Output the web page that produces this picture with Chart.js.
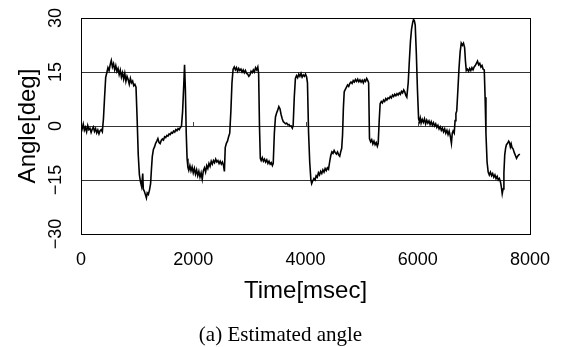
<!DOCTYPE html>
<html>
<head>
<meta charset="utf-8">
<script src="https://cdn.jsdelivr.net/npm/chart.js@4.4.1/dist/chart.umd.min.js"></script>
<style>
  html, body { margin: 0; padding: 0; background: #fff; }
  #wrap { width: 561px; height: 347px; position: relative; }
  #caption {
    position: absolute; left: 0; top: 322px; width: 561px;
    text-align: center; line-height: 25px; font-size: 21px;
    font-family: "Liberation Serif", "Times New Roman", serif; color: #000;
  }
</style>
</head>
<body>
<div id="wrap">
  <canvas id="angleChart"></canvas>
  <div id="caption">(a) Estimated angle</div>
</div>
<script>
// Time axis (msec) and estimated angle (deg)
const timeMs = [
  0, 20, 40, 60, 80, 100, 120, 140, 160, 180, 200, 220, 240, 260, 280, 300, 320, 340, 360, 380,
  400, 420, 440, 460, 480, 500, 520, 540, 560, 580, 600, 620, 640, 660, 680, 700, 720, 740, 760, 780,
  800, 820, 840, 860, 880, 900, 920, 940, 960, 980,
  1000, 1020, 1040, 1060, 1080, 1100, 1110, 1130, 1150, 1165, 1180, 1200, 1220, 1240, 1255, 1270, 1290, 1310, 1330, 1350,
  1370, 1390, 1410, 1430, 1450, 1470, 1490, 1510, 1530, 1550, 1570, 1590, 1610, 1630, 1650, 1670, 1690, 1710, 1730, 1750,
  1770, 1790, 1810, 1830, 1845, 1860, 1875, 1890, 1905, 1920, 1940, 1960, 1980, 2000, 2020, 2040, 2060, 2080, 2100, 2120,
  2140, 2160, 2180, 2200, 2220, 2240, 2260, 2280, 2300, 2320, 2340, 2360, 2380, 2400, 2420, 2440, 2460, 2480, 2500, 2520,
  2540, 2555, 2570, 2590, 2610, 2630, 2650, 2670, 2690, 2710, 2730, 2750, 2770, 2790, 2810, 2830, 2850, 2870, 2890, 2910,
  2930, 2950, 2970, 2990, 3010, 3030, 3050, 3070, 3090, 3110, 3130, 3150, 3165,
  3180, 3195, 3210, 3230, 3250, 3270, 3290, 3310, 3330, 3350, 3370, 3390, 3410, 3425,
  3445, 3465, 3485, 3505, 3525, 3545, 3565, 3585, 3605, 3625, 3645, 3665, 3685, 3705, 3725, 3745, 3765, 3780,
  3800, 3820, 3840, 3860, 3880, 3900, 3920, 3940, 3960, 3980, 4000, 4020, 4035,
  4055, 4075, 4095, 4110, 4130, 4150, 4170, 4190, 4210, 4230, 4250, 4270, 4290, 4310, 4330, 4350, 4370, 4390, 4410, 4430,
  4450, 4470, 4490, 4510, 4530, 4550, 4570, 4590, 4610, 4630, 4645,
  4660, 4675, 4690, 4710, 4730, 4750, 4770, 4790, 4810, 4830, 4850, 4870, 4890, 4910, 4930, 4950, 4970, 4990, 5010, 5030,
  5050, 5070, 5090, 5110, 5125,
  5140, 5160, 5180, 5200, 5220, 5240, 5260, 5280, 5295,
  5315, 5330, 5350, 5370, 5390, 5410, 5430, 5450, 5470, 5490, 5510, 5530, 5550, 5570, 5590, 5610, 5630, 5650, 5670, 5690,
  5710, 5730, 5750, 5770, 5790, 5805,
  5830, 5850, 5870, 5890, 5910, 5925, 5940, 5955, 5975, 5995, 6015, 6030,
  6045, 6060, 6080, 6100, 6120, 6140, 6160, 6180, 6200, 6220, 6240, 6260, 6280, 6300, 6320, 6340, 6360, 6380, 6400, 6420,
  6440, 6460, 6480, 6500, 6520, 6540, 6560, 6580, 6600, 6615, 6630, 6650,
  6665, 6680, 6695, 6715, 6735, 6755, 6775, 6795, 6815, 6835, 6850, 6865, 6885, 6905, 6925, 6945, 6965, 6985, 7005, 7025,
  7045, 7065, 7085, 7105, 7125, 7145, 7165, 7185,
  7200, 7215, 7235, 7255, 7275, 7295, 7315, 7335, 7355, 7375, 7395, 7415, 7435, 7455, 7475, 7490, 7505, 7520,
  7535, 7550, 7565, 7580, 7600, 7620, 7635, 7650, 7665, 7680, 7700, 7720, 7740, 7760, 7780, 7800, 7820
];
const angleDeg = [
  0.2, -0.8, 0.5, -1.2, -0.4, -1.6, 0.1, -1.0, -0.6, -1.8, -0.9, -0.3, -1.5, -0.7, -1.9, -1.1, -2.2, -1.3, -1.0, -1.6,
  2.0, 8.0, 13.5, 14.8, 16.2, 15.4, 17.0, 18.2, 16.4, 17.3, 15.6, 16.8, 15.2, 16.0, 14.3, 15.5, 13.6, 14.8, 13.0, 14.6,
  12.4, 13.8, 12.9, 11.6, 13.2, 12.0, 12.5, 11.2, 11.6, 10.8,
  2.0, -8.0, -13.5, -15.5, -16.8, -13.2, -17.5, -18.2, -19.2, -20.0, -18.6, -19.0, -17.8, -16.0, -12.0, -8.5, -6.5, -5.8, -4.8, -4.2,
  -3.5, -4.6, -4.9, -4.0, -3.6, -3.9, -3.0, -3.2, -2.6, -2.8, -2.2, -2.4, -1.8, -2.0, -1.4, -1.7, -1.0, -1.3, -0.7, -1.0,
  -0.4, -0.1, 4.0, 11.0, 17.0, 10.0, -2.0, -9.0, -11.5, -12.3, -11.0, -12.5, -11.4, -13.0, -11.8, -13.4, -12.2, -13.8, -12.6, -14.2,
  -13.0, -14.8, -12.4, -11.6, -12.8, -11.0, -11.8, -10.4, -11.2, -9.8, -10.6, -9.6, -10.2, -9.2, -10.0, -9.6, -10.4, -9.8, -10.6, -10.0,
  -11.0, -12.6, -6.0, -4.8, -4.2, -3.0, -2.0, 4.0, 12.0, 15.8, 16.4, 15.6, 16.2, 15.2, 16.0, 15.4, 15.8, 15.0, 15.6, 14.8,
  15.4, 14.6, 14.4, 13.8, 14.2, 15.2, 14.8, 15.6, 15.0, 16.2, 15.6, 16.4, 14.5,
  0.0, -9.0, -9.6, -8.8, -9.8, -9.2, -10.0, -9.4, -10.4, -9.8, -10.6, -10.2, -11.0, -10.4,
  -2.0, 2.5, 3.6, 4.4, 5.4, 4.8, 3.2, 2.0, 1.2, 0.9, 0.6, 0.8, 0.3, 0.4, -0.1, 0.0, -0.6, 0.2,
  8.0, 13.2, 14.0, 13.4, 14.4, 13.8, 14.6, 13.6, 14.2, 13.8, 14.4, 13.6, 12.0,
  -2.0, -10.0, -14.8, -16.0, -15.2, -14.6, -15.0, -13.8, -14.2, -13.0, -13.6, -12.6, -13.2, -12.2, -12.8, -11.8, -12.4, -11.6, -12.0, -10.0,
  -8.2, -7.2, -7.6, -6.8, -7.4, -7.8, -7.2, -8.0, -8.4, -7.0, -6.2,
  -2.5, 5.0, 9.5, 10.2, 10.8, 11.4, 11.0, 11.8, 12.2, 11.8, 12.6, 12.2, 12.9, 12.4, 13.0, 12.3, 12.8, 12.2, 12.7, 12.0,
  12.8, 12.4, 13.2, 12.6, 12.0,
  -3.5, -4.4, -3.8, -5.0, -4.2, -5.2, -4.6, -5.6, -4.8,
  2.0, 6.2, 6.8, 6.4, 7.2, 6.8, 7.6, 7.2, 7.8, 7.6, 8.2, 7.8, 8.6, 8.2, 8.8, 8.4, 9.0, 8.6, 9.2, 8.8,
  9.6, 9.2, 10.0, 9.4, 8.4, 8.0,
  12.0, 18.0, 23.5, 27.0, 28.8, 29.6, 29.2, 28.0, 20.0, 10.0, 2.0, 1.2,
  2.2, 0.8, 1.8, 1.0, 2.0, 0.6, 1.6, 0.8, 1.4, 0.4, 1.2, 0.2, 0.9, 0.0, 0.6, -0.4, 0.2, -0.8, -0.2, -1.2,
  -0.6, -1.6, -0.8, -2.0, -1.2, -2.4, -1.4, -2.8, -4.8, -2.0, -1.4, -2.0,
  1.5, 3.5, 4.2, 10.0, 16.0, 20.5, 23.0, 22.4, 23.0, 21.8, 18.0, 15.4, 15.8, 15.2, 16.0, 15.4, 16.2, 15.6, 16.4, 16.8,
  17.4, 18.0, 17.0, 17.4, 16.4, 16.8, 15.8, 15.6,
  8.0, -2.0, -10.0, -12.8, -13.6, -12.8, -13.8, -13.2, -14.2, -13.6, -14.6, -14.0, -15.0, -14.6, -15.6, -17.0, -18.8, -17.5,
  -13.0, -8.0, -6.2, -5.2, -4.8, -4.2, -4.6, -5.8, -5.0, -6.0, -6.4, -7.4, -8.2, -9.0, -8.4, -8.0, -7.8
];
const xTicks = [0, 2000, 4000, 6000, 8000];
const yTicks = [-30, -15, 0, 15, 30];
const yTickLabels = ['\u221230', '\u221215', '0', '15', '30'];

const points = timeMs.map((t, i) => ({ x: t, y: angleDeg[i] }));

// y tick labels are drawn rotated, reading bottom to top
const rotatedYTicks = {
  id: 'rotatedYTicks',
  afterDraw(chart) {
    const y = chart.scales.y;
    const c = chart.ctx;
    c.save();
    c.fillStyle = '#000';
    c.font = '18px "Liberation Sans", Arial, sans-serif';
    c.textAlign = 'center';
    c.textBaseline = 'middle';
    yTicks.forEach((v, i) => {
      c.save();
      c.translate(56, y.getPixelForValue(v));
      c.rotate(-Math.PI / 2);
      c.fillText(yTickLabels[i], 0, 0);
      c.restore();
    });
    c.restore();
  }
};

// plot frame plus the little marks on the zero line
const frame = {
  id: 'frame',
  afterDatasetsDraw(chart) {
    const a = chart.chartArea;
    const c = chart.ctx;
    const x = chart.scales.x;
    const y0 = Math.round(chart.scales.y.getPixelForValue(0));
    c.save();
    c.strokeStyle = '#000';
    c.lineWidth = 1;
    c.strokeRect(Math.round(a.left) + 0.5, Math.round(a.top) + 0.5, Math.round(a.right - a.left), Math.round(a.bottom - a.top));
    c.strokeStyle = '#444';
    c.beginPath();
    xTicks.slice(1, -1).forEach(v => {
      const px = Math.round(x.getPixelForValue(v)) + 0.5;
      c.moveTo(px, y0 - 4);
      c.lineTo(px, y0);
    });
    c.stroke();
    c.restore();
  }
};

new Chart(document.getElementById('angleChart'), {
  type: 'line',
  data: {
    datasets: [{
      data: points,
      borderColor: '#000',
      borderWidth: 1.6,
      pointRadius: 0,
      tension: 0,
      fill: false
    }]
  },
  options: {
    responsive: true,
    maintainAspectRatio: false,
    animation: false,
    layout: { padding: { left: 0, top: 18, right: 31, bottom: 0 } },
    plugins: {
      legend: { display: false },
      tooltip: { enabled: false }
    },
    scales: {
      x: {
        type: 'linear',
        min: 0,
        max: 8000,
        afterBuildTicks: s => { s.ticks = xTicks.map(v => ({ value: v })); },
        afterFit: s => { s.height = 113; s.paddingLeft = 0; s.paddingRight = 0; },
        grid: { display: false, drawTicks: false },
        border: { display: false },
        ticks: {
          color: '#000',
          padding: 15,
          maxRotation: 0,
          callback: v => String(v),
          font: { family: '"Liberation Sans", Arial, sans-serif', size: 18 }
        },
        title: {
          display: true,
          text: 'Time[msec]',
          color: '#000',
          font: { family: '"Liberation Sans", Arial, sans-serif', size: 24 },
          padding: { top: 0, bottom: 41.6 }
        }
      },
      y: {
        min: -30,
        max: 30,
        afterBuildTicks: s => { s.ticks = yTicks.map(v => ({ value: v })); },
        afterFit: s => { s.width = 81; },
        grid: { color: '#333', lineWidth: 1, drawTicks: false },
        border: { display: false },
        ticks: { display: false },
        title: {
          display: true,
          text: 'Angle[deg]',
          color: '#000',
          font: { family: '"Liberation Sans", Arial, sans-serif', size: 24 },
          padding: { top: 14, bottom: 0 }
        }
      }
    }
  },
  plugins: [rotatedYTicks, frame]
});
</script>
</body>
</html>
